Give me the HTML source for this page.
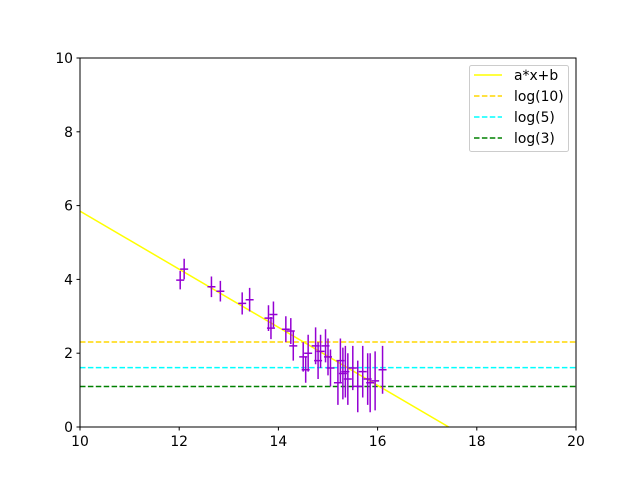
<!DOCTYPE html>
<html><head><meta charset="utf-8"><style>body{margin:0;background:#fff}svg{font-family:"DejaVu Sans","Liberation Sans",sans-serif}</style></head>
<body>
<svg id="chart" width="640" height="480" viewBox="0 0 640 480" xmlns="http://www.w3.org/2000/svg">
<rect width="640" height="480" fill="#fff"/>
<g id="plot"></g>
</svg>
<script>
const xs=[12.02,12.1,12.65,12.83,13.27,13.42,13.8,13.85,13.9,14.15,14.25,14.3,14.5,14.55,14.6,14.75,14.8,14.85,14.95,15.0,15.05,15.2,15.25,15.3,15.35,15.4,15.5,15.6,15.7,15.8,15.85,15.95,16.1];
const ys=[3.98,4.28,3.8,3.68,3.35,3.45,2.95,2.68,3.05,2.65,2.6,2.2,1.9,1.55,2.0,2.2,1.8,2.05,2.2,1.9,1.6,1.2,1.8,1.45,1.5,1.3,1.6,1.1,1.5,1.3,1.2,1.25,1.55];
const errs=[0.25,0.28,0.28,0.28,0.3,0.32,0.35,0.3,0.35,0.35,0.35,0.4,0.4,0.35,0.5,0.5,0.5,0.45,0.45,0.5,0.5,0.6,0.6,0.7,0.7,0.7,0.6,0.7,0.7,0.7,0.8,0.8,0.65];
const slopeA=-0.787, interceptB=13.72;
const hlines=[2.303,1.609,1.099];
const hcolors=['#ffd700','#00ffff','#008000'];
const legendLabels=['a*x+b','log(10)','log(5)','log(3)'];
const xticks=[10,12,14,16,18,20], yticks=[0,2,4,6,8,10];
const L=80,R=576,T=58,B=427;
const sx=v=>L+(v-10)/10*(R-L), sy=v=>B-v/10*(B-T);
const NS='http://www.w3.org/2000/svg', g=document.getElementById('plot');
function mk(t,a){const e=document.createElementNS(NS,t);for(const k in a)e.setAttribute(k,a[k]);g.appendChild(e);return e;}
const cp=mk('clipPath',{id:'c'});const cr=document.createElementNS(NS,'rect');cr.setAttribute('x',L);cr.setAttribute('y',T);cr.setAttribute('width',R-L);cr.setAttribute('height',B-T);cp.appendChild(cr);
hlines.forEach((h,i)=>{const e=mk('line',{x1:L,x2:R,y1:sy(h),y2:sy(h),stroke:hcolors[i],'stroke-width':1.5,'stroke-dasharray':'5.5,2.4'});

});
const fl=mk('line',{x1:sx(10),y1:sy(slopeA*10+interceptB),x2:sx(20),y2:sy(slopeA*20+interceptB),stroke:'#ffff00','stroke-width':1.5,'clip-path':'url(#c)'});


xs.forEach((x,i)=>{const e=mk('path',{d:`M${sx(x)},${sy(ys[i]-errs[i])}V${sy(ys[i]+errs[i])}M${sx(x)-4},${sy(ys[i])}H${sx(x)+4}`,stroke:'#9400d3','stroke-width':1.5,fill:'none'});

});
const fr=mk('rect',{x:L,y:T,width:R-L,height:B-T,fill:'none',stroke:'#000','stroke-width':1});


xticks.forEach(t=>{mk('line',{x1:sx(t),x2:sx(t),y1:B,y2:B+3.5,stroke:'#000'});const e=mk('text',{x:sx(t),y:B+19,'text-anchor':'middle','font-size':13.9});e.textContent=t;

});
yticks.forEach(t=>{mk('line',{x1:L-3.5,x2:L,y1:sy(t),y2:sy(t),stroke:'#000'});const e=mk('text',{x:L-7,y:sy(t)+5,'text-anchor':'end','font-size':13.9});e.textContent=t;

});
const lg=mk('rect',{x:469.5,y:65.5,width:99,height:86,rx:2,fill:'#fff','fill-opacity':0.8,stroke:'#ccc'});


const lc=['#ffff00'].concat(hcolors);
legendLabels.forEach((s,i)=>{const y=75+i*21;mk('line',{x1:474,x2:502,y1:y,y2:y,stroke:lc[i],'stroke-width':1.5,'stroke-dasharray':i?'5.5,2.4':'none'});
const e=mk('text',{x:514,y:y+5,'font-size':13.9});e.textContent=s;

});
</script>
</body></html>
